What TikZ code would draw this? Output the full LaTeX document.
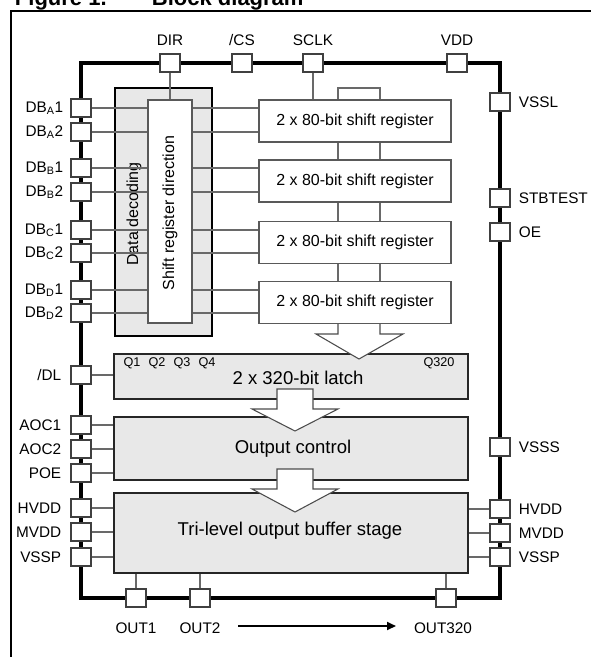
\documentclass[tikz,border=0pt]{standalone}
\usepackage{fontspec}
\setmainfont{Liberation Sans}
\usetikzlibrary{arrows.meta}
\definecolor{blkgray}{RGB}{232,232,232}
\definecolor{wiregray}{RGB}{105,105,105}
\tikzset{every picture/.style={line width=0.75pt}}
\tikzset{
  iopad/.style={draw=black!75, fill=white, line width=0.9pt, minimum width=15pt, minimum height=13.5pt, inner sep=0pt},
  wire/.style={draw=wiregray, line width=0.8pt},
  padtext/.style={font=\fontsize{11.5}{13}\selectfont, inner sep=1pt},
  qtext/.style={font=\fontsize{9.5}{11}\selectfont, inner sep=0pt},
  srbox/.style={draw=black!65, fill=white, line width=0.9pt, minimum width=144pt, minimum height=31.5pt, font=\fontsize{12}{14}\selectfont},
  grayblk/.style={draw=black!85, fill=blkgray, line width=1.1pt, minimum width=265.5pt},
  blktext/.style={font=\fontsize{13.9}{16}\selectfont},
  bigarrow/.style={draw=black!70, fill=white, line width=0.8pt, line join=miter},
}

\begin{document}
\begin{tikzpicture}[x=0.75pt,y=0.75pt,yscale=-1,xscale=1]
\useasboundingbox (0,0) rectangle (591,657);
\clip (0,0) rectangle (591,657);

% Title (cut off at the top)
\draw (10,5) node (figno) [anchor=base west, font=\bfseries\fontsize{16.5}{18}\selectfont] {Figure 1.};
\draw (147,5) node (figtitle) [anchor=base west, font=\bfseries\fontsize{16.5}{18}\selectfont] {Block diagram};

%Frame
\draw [line width=1.6pt] (620,11) -- (11,11) -- (11,680) ;

%Chip outline
\draw [line width=2.4pt] (81,63) rectangle (500,598) ;

%Data decoding block
\node (dec) [draw=black, fill=blkgray, line width=1.6pt, minimum width=72.75pt, minimum height=186pt] at (163.5,212) {};
\draw (134,214) node (tdec) [rotate=90, font=\fontsize{12}{14}\selectfont] {Data decoding};

%Shift registers
\node (sr1) [srbox] at (355,121) {2 x 80-bit shift register};
\node (sr2) [srbox] at (355,181) {2 x 80-bit shift register};
\node (sr3) [srbox] at (355,242.5) {2 x 80-bit shift register};
\node (sr4) [srbox] at (355,302.5) {2 x 80-bit shift register};

%Latch, output control, buffer
\node (latch) [grayblk, minimum height=33.75pt] at (291,376.5) {};
\node (outctl) [grayblk, minimum height=47.25pt] at (291,448.5) {};
\node (buf) [grayblk, minimum height=60pt] at (291,533) {};
% Text Node
\draw (298,378) node (tlatch) [blktext] {2 x 320-bit latch};
\draw (293,449) node (toutctl) [blktext] {Output control};
\draw (290,531) node (tbuf) [blktext] {Tri-level output buffer stage};
\draw (132,363) node (q1) [qtext] {Q1};
\draw (157,363) node (q2) [qtext] {Q2};
\draw (182,363) node (q3) [qtext] {Q3};
\draw (207,363) node (q4) [qtext] {Q4};
\draw (439,363) node (q320) [qtext] {Q320};

%Pads: top
\node (pDIR) [iopad] at (170,63) {};
\node (pCS) [iopad] at (242,63) {};
\node (pSCLK) [iopad] at (313,63) {};
\node (pVDD) [iopad] at (457,63) {};
%Pads: left
\node (pDBA1) [iopad] at (81,108) {};
\node (pDBA2) [iopad] at (81,132) {};
\node (pDBB1) [iopad] at (81,168) {};
\node (pDBB2) [iopad] at (81,192) {};
\node (pDBC1) [iopad] at (81,230) {};
\node (pDBC2) [iopad] at (81,253) {};
\node (pDBD1) [iopad] at (81,290) {};
\node (pDBD2) [iopad] at (81,313) {};
\node (pDL) [iopad] at (81,375) {};
\node (pAOC1) [iopad] at (81,425) {};
\node (pAOC2) [iopad] at (81,449) {};
\node (pPOE) [iopad] at (81,473) {};
\node (pHVDDl) [iopad] at (81,508) {};
\node (pMVDDl) [iopad] at (81,532) {};
\node (pVSSPl) [iopad] at (81,557) {};
%Pads: right
\node (pVSSL) [iopad] at (500,102) {};
\node (pSTB) [iopad] at (500,198) {};
\node (pOE) [iopad] at (500,232) {};
\node (pVSSS) [iopad] at (500,447) {};
\node (pHVDDr) [iopad] at (500,509) {};
\node (pMVDDr) [iopad] at (500,533) {};
\node (pVSSPr) [iopad] at (500,557) {};
%Pads: bottom
\node (pOUT1) [iopad] at (136,598) {};
\node (pOUT2) [iopad] at (200,598) {};
\node (pOUT320) [iopad] at (446,598) {};

%Data lines into the shift registers
\draw [wire] (pDBA1.east) -- (pDBA1.east -| sr1.west) ;
\draw [wire] (pDBA2.east) -- (pDBA2.east -| sr1.west) ;
\draw [wire] (pDBB1.east) -- (pDBB1.east -| sr2.west) ;
\draw [wire] (pDBB2.east) -- (pDBB2.east -| sr2.west) ;
\draw [wire] (pDBC1.east) -- (pDBC1.east -| sr3.west) ;
\draw [wire] (pDBC2.east) -- (pDBC2.east -| sr3.west) ;
\draw [wire] (pDBD1.east) -- (pDBD1.east -| sr4.west) ;
\draw [wire] (pDBD2.east) -- (pDBD2.east -| sr4.west) ;

%Shift register direction block (over the data lines)
\node (srdir) [draw=black!65, fill=white, line width=0.9pt, minimum width=33pt, minimum height=167.25pt] at (170,211.5) {};
\draw (170,213) node (tsrdir) [rotate=90, font=\fontsize{12}{14}\selectfont] {Shift register direction};

%Control lines
\draw [wire] (pDIR.south) -- (srdir.north) ;
\draw [wire] (pSCLK.south) -- (pSCLK.south |- sr1.north) ;
\draw [wire] (pDL.east) -- (pDL.east -| latch.west) ;
\draw [wire] (pAOC1.east) -- (pAOC1.east -| outctl.west) ;
\draw [wire] (pAOC2.east) -- (pAOC2.east -| outctl.west) ;
\draw [wire] (pPOE.east) -- (pPOE.east -| outctl.west) ;
\draw [wire] (pHVDDl.east) -- (pHVDDl.east -| buf.west) ;
\draw [wire] (pMVDDl.east) -- (pMVDDl.east -| buf.west) ;
\draw [wire] (pVSSPl.east) -- (pVSSPl.east -| buf.west) ;
\draw [wire] (pHVDDr.west) -- (pHVDDr.west -| buf.east) ;
\draw [wire] (pMVDDr.west) -- (pMVDDr.west -| buf.east) ;
\draw [wire] (pVSSPr.west) -- (pVSSPr.west -| buf.east) ;
\draw [wire] (pOUT1.north) -- (pOUT1.north |- buf.south) ;
\draw [wire] (pOUT2.north) -- (pOUT2.north |- buf.south) ;
\draw [wire] (pOUT320.north) -- (pOUT320.north |- buf.south) ;

%Bus through the shift registers
\coordinate (busL) at (338,88);
\coordinate (busR) at (380,88);
\draw [wire] (sr1.north -| busL) -- (busL) -- (busR) -- (sr1.north -| busR) ;
\draw [wire] (sr1.south -| busL) -- (sr2.north -| busL) ;
\draw [wire] (sr1.south -| busR) -- (sr2.north -| busR) ;
\draw [wire] (sr2.south -| busL) -- (sr3.north -| busL) ;
\draw [wire] (sr2.south -| busR) -- (sr3.north -| busR) ;
\draw [wire] (sr3.south -| busL) -- (sr4.north -| busL) ;
\draw [wire] (sr3.south -| busR) -- (sr4.north -| busR) ;

%Big arrows
\draw [bigarrow] (sr4.south -| busL) -- (338,334) -- (316,334) -- (359,359) -- (403,334) -- (380,334) -- (sr4.south -| busR) ;
\draw [bigarrow] (277,389) -- (313,389) -- (313,409) -- (338,409) -- (295,431) -- (252,409) -- (277,409) -- cycle ;
\draw [bigarrow] (277,469) -- (313,469) -- (313,489) -- (338,489) -- (295,512) -- (252,489) -- (277,489) -- cycle ;

% Text Node
\draw (170,40) node (tDIR) [padtext] {DIR};
\draw (242,40) node (tCS) [padtext] {/CS};
\draw (313,40) node (tSCLK) [padtext] {SCLK};
\draw (457,40) node (tVDD) [padtext] {VDD};
% Text Node
\draw (65,108) node (tDBA1) [padtext, anchor=east] {DB\textsubscript{A}1};
\draw (65,132) node (tDBA2) [padtext, anchor=east] {DB\textsubscript{A}2};
\draw (65,168) node (tDBB1) [padtext, anchor=east] {DB\textsubscript{B}1};
\draw (65,192) node (tDBB2) [padtext, anchor=east] {DB\textsubscript{B}2};
\draw (65,230) node (tDBC1) [padtext, anchor=east] {DB\textsubscript{C}1};
\draw (65,253) node (tDBC2) [padtext, anchor=east] {DB\textsubscript{C}2};
\draw (65,290) node (tDBD1) [padtext, anchor=east] {DB\textsubscript{D}1};
\draw (65,313) node (tDBD2) [padtext, anchor=east] {DB\textsubscript{D}2};
\draw (63,375) node (tDL) [padtext, anchor=east] {/DL};
\draw (63,425) node (tAOC1) [padtext, anchor=east] {AOC1};
\draw (63,449) node (tAOC2) [padtext, anchor=east] {AOC2};
\draw (63,473) node (tPOE) [padtext, anchor=east] {POE};
\draw (63,508) node (tHVDDl) [padtext, anchor=east] {HVDD};
\draw (63,532) node (tMVDDl) [padtext, anchor=east] {MVDD};
\draw (63,557) node (tVSSPl) [padtext, anchor=east] {VSSP};
% Text Node
\draw (517,102) node (tVSSL) [padtext, anchor=west] {VSSL};
\draw (517,198) node (tSTB) [padtext, anchor=west] {STBTEST};
\draw (517,232) node (tOE) [padtext, anchor=west] {OE};
\draw (517,447) node (tVSSS) [padtext, anchor=west] {VSSS};
\draw (517,509) node (tHVDDr) [padtext, anchor=west] {HVDD};
\draw (517,533) node (tMVDDr) [padtext, anchor=west] {MVDD};
\draw (517,557) node (tVSSPr) [padtext, anchor=west] {VSSP};
% Text Node
\draw (136,628) node (tOUT1) [padtext] {OUT1};
\draw (200,628) node (tOUT2) [padtext] {OUT2};
\draw (443,628) node (tOUT320) [padtext] {OUT320};

%Output range arrow
\coordinate (arrA) at (238,626);
\coordinate (arrB) at (396,626);
\draw [line width=1.5pt, -{Triangle[length=6.75pt, width=6pt]}] (arrA) -- (arrB) ;

\end{tikzpicture}
\end{document}
